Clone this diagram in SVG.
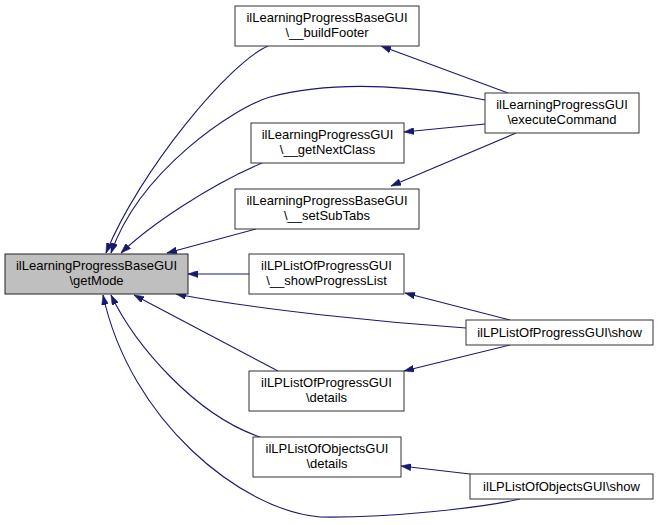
<svg xmlns="http://www.w3.org/2000/svg" width="663" height="525" viewBox="0 0 663 525">
<style>
.node rect{fill:#ffffff;stroke:#333333;stroke-width:1}
#getMode rect{fill:#bfbfbf;stroke:#222222}
text{font-family:"Liberation Sans",Arial,Helvetica,sans-serif;font-size:13px;fill:#000000;text-anchor:middle}
.edge{fill:none;stroke:#191970;stroke-width:1.1;marker-end:url(#arr)}
</style>
<defs>
<marker id="arr" viewBox="0 0 10 7" refX="10" refY="3.5" markerWidth="10" markerHeight="7" markerUnits="userSpaceOnUse" orient="auto">
<path d="M0,0 L10,3.5 L0,7 Z" fill="#191970" stroke="#191970" stroke-width="0.5"/>
</marker>
</defs>
<rect width="663" height="525" fill="#ffffff"/>
<g id="connectors">
<path class="edge" d="M268,46 C230,62 140,170 106,253"/>
<path class="edge" d="M485,100 C430,88 340,78 270,97 C235,107 140,170 111,253"/>
<path class="edge" d="M262,163 C210,185 150,225 121,253"/>
<path class="edge" d="M256,229 L167,253"/>
<path class="edge" d="M249,274 L188,274"/>
<path class="edge" d="M466,328 C380,322 260,310 176,294"/>
<path class="edge" d="M278,371 L134,295"/>
<path class="edge" d="M260,437 C195,415 135,345 111,295"/>
<path class="edge" d="M520,499 C480,508 390,518 320,517 C240,510 130,420 103,295"/>
<path class="edge" d="M508,93 L381,46"/>
<path class="edge" d="M485,124 L404,132"/>
<path class="edge" d="M516,133 L391,186"/>
<path class="edge" d="M510,320 L405,293"/>
<path class="edge" d="M510,345 L404,371"/>
<path class="edge" d="M470,474 L401,466"/>
</g>
<g id="getMode" class="node"><rect x="5" y="254" width="183" height="40"/><text x="96.5" y="269.5">ilLearningProgressBaseGUI</text><text x="96.5" y="284.5">\getMode</text></g>
<g id="buildFooter" class="node"><rect x="235" y="6" width="184" height="40"/><text x="327" y="21.5">ilLearningProgressBaseGUI</text><text x="327" y="36.5">\__buildFooter</text></g>
<g id="getNextClass" class="node"><rect x="251" y="123" width="153" height="40"/><text x="327.5" y="138.5">ilLearningProgressGUI</text><text x="327.5" y="153.5">\__getNextClass</text></g>
<g id="setSubTabs" class="node"><rect x="235" y="189" width="184" height="40"/><text x="327" y="204.5">ilLearningProgressBaseGUI</text><text x="327" y="219.5">\__setSubTabs</text></g>
<g id="showProgressList" class="node"><rect x="249" y="254" width="155" height="40"/><text x="326.5" y="269.5">ilLPListOfProgressGUI</text><text x="326.5" y="284.5">\__showProgressList</text></g>
<g id="lpDetails" class="node"><rect x="249" y="371" width="155" height="40"/><text x="326.5" y="386.5">ilLPListOfProgressGUI</text><text x="326.5" y="401.5">\details</text></g>
<g id="loDetails" class="node"><rect x="253" y="437" width="148" height="40"/><text x="327" y="452.5">ilLPListOfObjectsGUI</text><text x="327" y="467.5">\details</text></g>
<g id="executeCommand" class="node"><rect x="485" y="93" width="154" height="40"/><text x="562" y="108.5">ilLearningProgressGUI</text><text x="562" y="123.5">\executeCommand</text></g>
<g id="lpShow" class="node"><rect x="466" y="320" width="187" height="25"/><text x="559.5" y="337">ilLPListOfProgressGUI\show</text></g>
<g id="loShow" class="node"><rect x="470" y="474" width="183" height="25"/><text x="561.5" y="491">ilLPListOfObjectsGUI\show</text></g>
</svg>
